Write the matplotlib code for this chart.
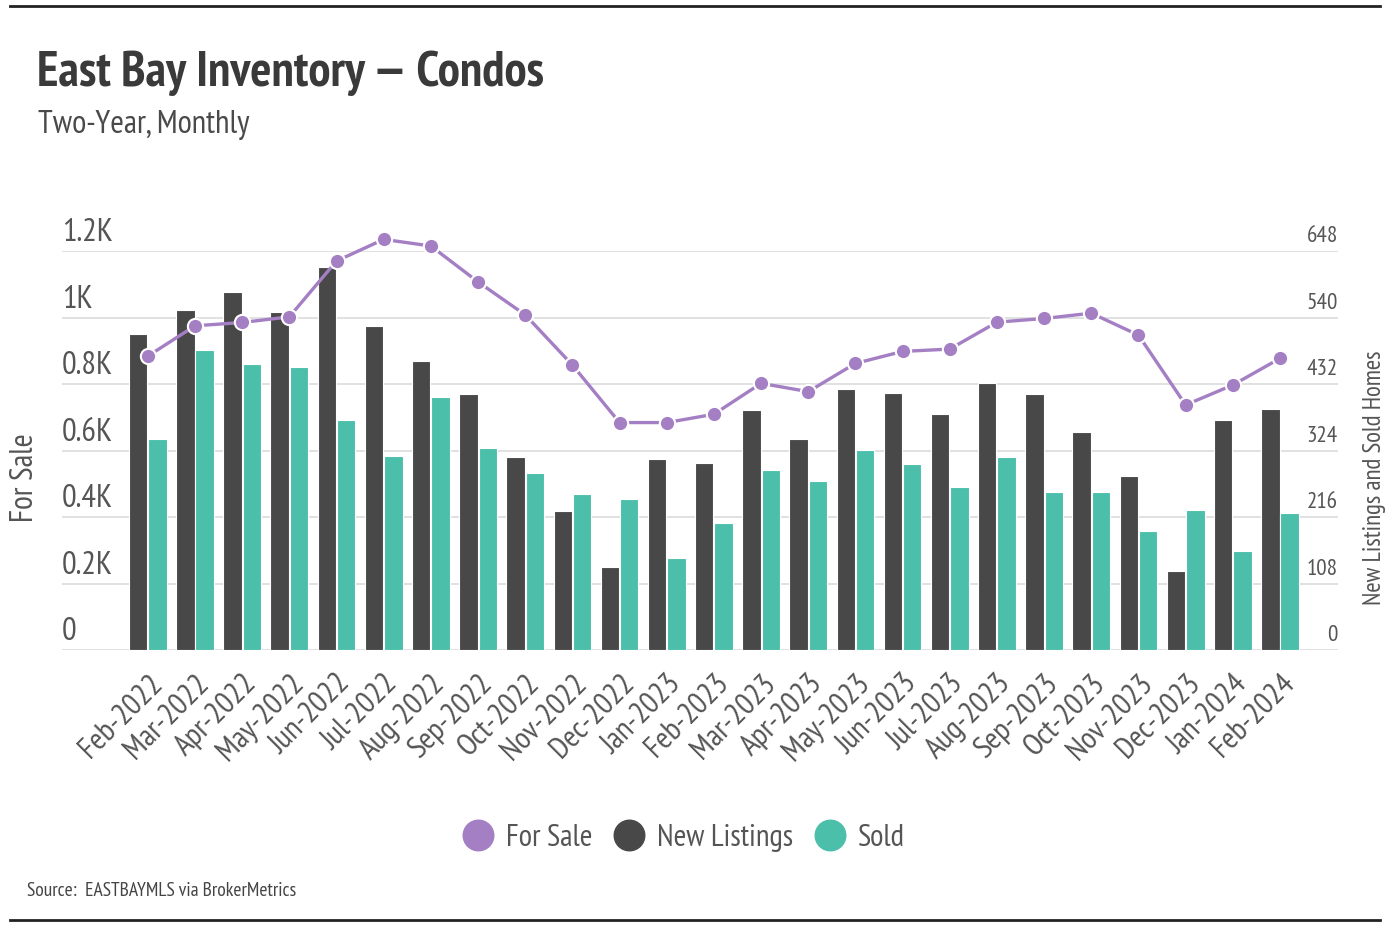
import numpy as np
import matplotlib
matplotlib.use("Agg")
import matplotlib.pyplot as plt
from matplotlib.lines import Line2D
from matplotlib import font_manager
import matplotlib.transforms as mtransforms

# prefer a narrow face, fall back to condensed DejaVu
have = {f.name for f in font_manager.fontManager.ttflist}
fams = [f for f in ['PT Sans Narrow', 'Liberation Sans Narrow', 'Roboto Condensed',
                    'Open Sans Condensed', 'Noto Sans Condensed'] if f in have]
plt.rcParams['font.family'] = fams + ['DejaVu Sans']
if not fams:
    plt.rcParams['font.stretch'] = 'condensed'

months = ['Feb-2022', 'Mar-2022', 'Apr-2022', 'May-2022', 'Jun-2022', 'Jul-2022',
          'Aug-2022', 'Sep-2022', 'Oct-2022', 'Nov-2022', 'Dec-2022', 'Jan-2023',
          'Feb-2023', 'Mar-2023', 'Apr-2023', 'May-2023', 'Jun-2023', 'Jul-2023',
          'Aug-2023', 'Sep-2023', 'Oct-2023', 'Nov-2023', 'Dec-2023', 'Jan-2024',
          'Feb-2024']
for_sale = [884, 975, 985, 1002, 1170, 1235, 1215, 1107, 1008, 857, 684, 684,
            709, 802, 777, 862, 898, 905, 986, 997, 1013, 947, 737, 797, 877]
new_listings = [514, 552, 581, 549, 622, 526, 470, 415, 313, 225, 134, 310,
                304, 389, 342, 424, 418, 383, 433, 415, 354, 283, 129, 374, 391]
sold = [342, 487, 464, 459, 374, 315, 411, 328, 287, 254, 246, 149,
        207, 292, 274, 325, 302, 264, 313, 257, 257, 193, 228, 161, 222]

left_ticks = [0, 200, 400, 600, 800, 1000, 1200]
left_labels = ['0', '0.2K', '0.4K', '0.6K', '0.8K', '1K', '1.2K']
right_ticks = [0, 108, 216, 324, 432, 540, 648]

purple = '#a47fc4'
dark = '#484848'
teal = '#4bbfaa'
grey_txt = '#555555'

W, H = 1398, 930
fig = plt.figure(figsize=(W / 100, H / 100), dpi=100)
renderer = fig.canvas.get_renderer()


def fit_size(s, target_px, weight='normal', size0=20):
    t = fig.text(0, 0, s, fontsize=size0, fontweight=weight)
    w = t.get_window_extent(renderer).width
    t.remove()
    return size0 * target_px / w


ax = fig.add_axes([62 / W, 1 - 650 / H, (1338 - 62) / W, (650 - 251) / H])
ax2 = ax.twinx()

x = np.arange(len(months))
bw = 0.39
ax.bar(x - 0.205, new_listings, width=bw, color=dark, edgecolor='white', linewidth=0.8, zorder=2)
ax.bar(x + 0.205, sold, width=bw, color=teal, edgecolor='white', linewidth=0.8, zorder=2)
ax.set_ylim(0, 648)
ax.set_xlim(-1.82, len(months) - 1 + 1.23)

ax2.plot(x, for_sale, color=purple, lw=2.4, marker='o', ms=11, clip_on=False,
         markeredgecolor='white', markeredgewidth=1.5, zorder=3)
ax2.set_ylim(0, 1200)

for a in (ax, ax2):
    for s in a.spines.values():
        s.set_visible(False)
    a.tick_params(axis='y', length=0, labelleft=False, labelright=False)

ax.set_yticks(right_ticks)
ax.yaxis.grid(True, color='#dcdcdc', lw=1.2, zorder=0)
ax.set_axisbelow(True)
ax2.set_yticks([])

# tick labels sit above the gridlines
fs_left = fit_size('0.8K', 51)
fs_right = fit_size('648', 31)
for v, lab in zip(left_ticks, left_labels):
    ax2.text(0.0, v + 8, lab, transform=ax2.get_yaxis_transform(), ha='left', va='bottom',
             fontsize=fs_left, color=grey_txt)
for v in right_ticks:
    ax.text(1.0, v + 6, str(v), transform=ax.get_yaxis_transform(), ha='right', va='bottom',
            fontsize=fs_right, color=grey_txt)

fs_x = fit_size('Feb-2022', 104)
ax.set_xticks(x)
ax.set_xticklabels(months, rotation=45, ha='right', rotation_mode='anchor',
                   fontsize=fs_x, color=grey_txt)
ax.tick_params(axis='x', length=0, pad=8)
offset = mtransforms.ScaledTranslation(0, -8 / 100, fig.dpi_scale_trans)
for lbl in ax.get_xticklabels():
    lbl.set_transform(lbl.get_transform() + offset)

fig.text(25 / W, 1 - 478 / H, 'For Sale', rotation=90, ha='center', va='center',
         fontsize=fit_size('For Sale', 89), color=grey_txt)
fig.text(1375 / W, 1 - 478 / H, 'New Listings and Sold Homes', rotation=90, ha='center',
         va='center', fontsize=fit_size('New Listings and Sold Homes', 255), color=grey_txt)

fig.text(37 / W, 1 - 73 / H, 'East Bay Inventory \u2014 Condos', ha='left', va='center',
         fontsize=fit_size('East Bay Inventory \u2014 Condos', 508, 'bold'),
         fontweight='bold', color='#3a3a3a')
fig.text(38 / W, 1 - 125 / H, 'Two-Year, Monthly', ha='left', va='center',
         fontsize=fit_size('Two-Year, Monthly', 211), color='#4a4a4a')
fig.text(27 / W, 1 - 891 / H, 'Source:  EASTBAYMLS via BrokerMetrics', ha='left', va='center',
         fontsize=fit_size('Source:  EASTBAYMLS via BrokerMetrics', 268), color='#444444')

handles = [Line2D([], [], ls='none', marker='o', ms=22, color=c) for c in (purple, dark, teal)]
fig.legend(handles, ['For Sale', 'New Listings', 'Sold'], loc='center',
           bbox_to_anchor=(682 / W, 1 - 838 / H), ncol=3, frameon=False,
           fontsize=fit_size('New Listings', 136),
           handletextpad=0.3, columnspacing=0.6, handlelength=1.2, labelcolor=grey_txt)

fig.add_artist(Line2D([10 / W, 1380 / W], [1 - 6 / H, 1 - 6 / H], color='#222222', lw=2))
fig.add_artist(Line2D([10 / W, 1380 / W], [1 - 920 / H, 1 - 920 / H], color='#222222', lw=2))

fig.savefig('out.png', dpi=100, facecolor='white')
